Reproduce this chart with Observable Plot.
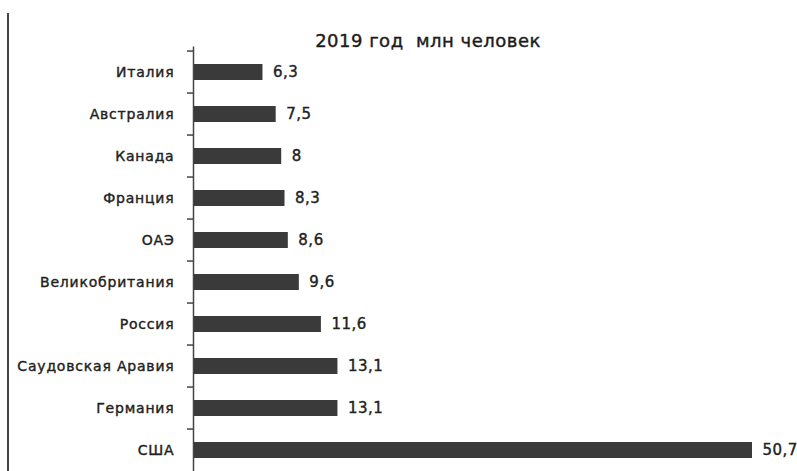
<!DOCTYPE html>
<html>
<head>
<meta charset="utf-8">
<script src="https://cdn.jsdelivr.net/npm/d3@7"></script>
<script src="https://cdn.jsdelivr.net/npm/@observablehq/plot@0.6"></script>
<style>
  html, body { margin: 0; padding: 0; background: #fff; overflow: hidden; }
  #wrap { position: relative; width: 797px; height: 471px; }
  #border { position: absolute; left: 7px; top: 13px; height: 470px; border-left: 2px solid #444; }
  #wrap svg g[aria-label="y-axis tick label"] text { letter-spacing: 0.8px; stroke: #222; stroke-width: 0.4px; }
  #wrap svg g[aria-label="text"] text { letter-spacing: 0.5px; stroke: currentColor; stroke-width: 0.4px; }
</style>
</head>
<body>
<div id="wrap"><div id="border"></div></div>
<script>
const title = "2019 год\u00a0\u00a0млн человек";
const countries = ["Италия", "Австралия", "Канада", "Франция", "ОАЭ", "Великобритания", "Россия", "Саудовская Аравия", "Германия", "США"];
const values = [6.3, 7.5, 8, 8.3, 8.6, 9.6, 11.6, 13.1, 13.1, 50.7];

const data = countries.map((c, i) => ({country: c, value: values[i], label: String(values[i]).replace(".", ",")}));

const font = "'DejaVu Sans', Verdana, sans-serif";

const chart = Plot.plot({
  width: 797,
  height: 475,
  marginTop: 46.5,
  marginBottom: 0,
  marginLeft: 193,
  marginRight: 45,
  style: {fontFamily: font, fontSize: "14px", color: "#222", background: "transparent"},
  x: {domain: [0, 50.7], axis: null},
  y: {domain: countries, padding: 0, label: null},
  marks: [
    Plot.barX(data, {x: "value", y: "country", fill: "#3a3a3a", insetTop: 13, insetBottom: 13}),
    Plot.ruleX([0], {stroke: "#444", strokeWidth: 1.5}),
    Plot.axisY({tickSize: 6, text: null, stroke: "#444", strokeWidth: 1.5, dy: -21.45}),
    Plot.axisY({tickSize: 0, tickPadding: 19, fontSize: 14, fill: "#222"}),
    Plot.text(data, {x: "value", y: "country", text: "label", textAnchor: "start", dx: 10, fontSize: 15, fill: "#222"}),
    Plot.text([title], {frameAnchor: "top", dx: -45, dy: -13, fontSize: 18, fill: "#1a1a1a"})
  ]
});
document.getElementById("wrap").appendChild(chart);
</script>
</body>
</html>
